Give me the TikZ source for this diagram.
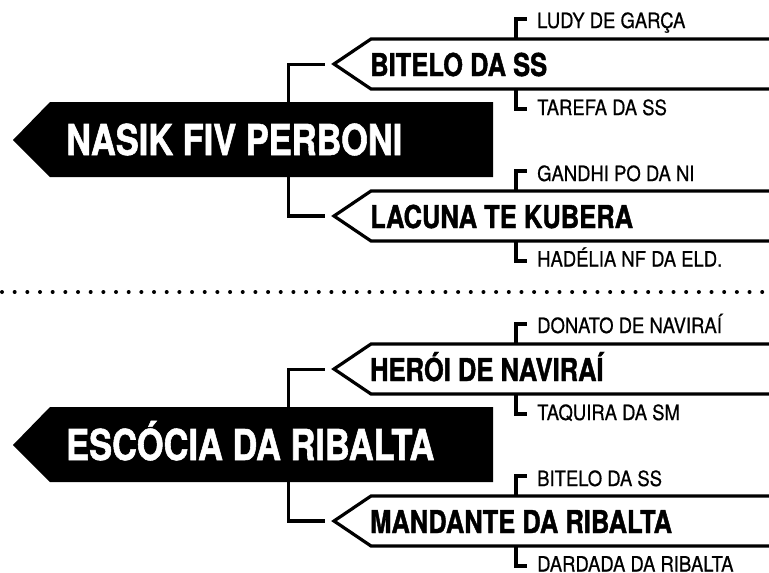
\documentclass[tikz,border=0pt]{standalone}
\usepackage{fontspec}
\setmainfont[FakeStretch=0.88,FakeBold=0.6]{TeX Gyre Heros}
\newfontfamily\heavyfont[FakeStretch=0.81,FakeBold=1.3,BoldFont={TeX Gyre Heros Bold}]{TeX Gyre Heros Bold}
\usetikzlibrary{calc}
\tikzset{
 x=1pt,y=-1pt,
 bigarrow/.style={fill=black,draw=none},
 subarrow/.style={draw=black,line width=3.2pt,fill=white,miter limit=10},
 link/.style={draw=black,line width=3.2pt},
 bigtext/.style={anchor=base west,inner sep=0pt,text=white,font=\fontsize{42.5}{42.5}\heavyfont},
 subtext/.style={anchor=base west,inner sep=0pt,font=\fontsize{31.5}{31.5}\heavyfont},
 leaftext/.style={anchor=base west,inner sep=0pt,font=\fontsize{21}{21}\selectfont},
 dotline/.style={line width=4pt,line cap=round,dash pattern=on 0pt off 12.67pt},
}
\newcommand{\group}[9]{%
 % #1 name, #2 y offset, #3 big title, #4 sub1, #5 leaf1a, #6 leaf1b, #7 sub2, #8 leaf2a, #9 leaf2b
 \begin{scope}[yshift=-#2pt]
 \draw[bigarrow] (13,140) -- (50,102) -- (493,102) -- (493,177) -- (50,177) -- cycle;
 \node[bigtext] (#1t) at (66,155) {#3};
 \coordinate (#1up) at (288.5,102);
 \coordinate (#1dn) at (288.5,177);
 \coordinate (#1a) at (325,64.5);
 \coordinate (#1b) at (325,216);
 \draw[link] (#1up) |- (#1a);
 \draw[link] (#1dn) |- (#1b);
 \draw[subarrow] (772,39) -- (371,39) -- (334,64) -- (371,89) -- (772,89);
 \draw[subarrow] (772,191) -- (371,191) -- (334,216) -- (371,241) -- (772,241);
 \node[subtext] (#1s1) at (370,76) {#4};
 \node[subtext] (#1s2) at (370,228) {#7};
 \coordinate (#1c) at (516,39);
 \coordinate (#1d) at (516,89);
 \coordinate (#1e) at (516,191);
 \coordinate (#1f) at (516,241);
 \node[leaftext] (#1l1) at (537,28) {#5};
 \node[leaftext] (#1l2) at (537,115) {#6};
 \node[leaftext] (#1l3) at (537,181) {#8};
 \node[leaftext] (#1l4) at (537,266.5) {#9};
 \draw[link] (#1c) -- ++(0,-20) -- ++(11,0);
 \draw[link] (#1d) -- ++(0,20) -- ++(11,0);
 \draw[link] (#1e) -- ++(0,-20) -- ++(11,0);
 \draw[link] (#1f) -- ++(0,20) -- ++(11,0);
 \end{scope}}
\begin{document}
\begin{tikzpicture}
\useasboundingbox (0,0) rectangle (769,573);
\group{p}{0}{NASIK FIV PERBONI}{BITELO DA SS}{LUDY DE GARÇA}{TAREFA DA SS}{LACUNA TE KUBERA}{GANDHI PO DA NI}{HADÉLIA NF DA ELD.}
\draw[dotline] (2,292) -- (769,292);
\group{q}{305}{ESCÓCIA DA RIBALTA}{HERÓI DE NAVIRAÍ}{DONATO DE NAVIRAÍ}{TAQUIRA DA SM}{MANDANTE DA RIBALTA}{BITELO DA SS}{DARDADA DA RIBALTA}
\end{tikzpicture}
\end{document}
